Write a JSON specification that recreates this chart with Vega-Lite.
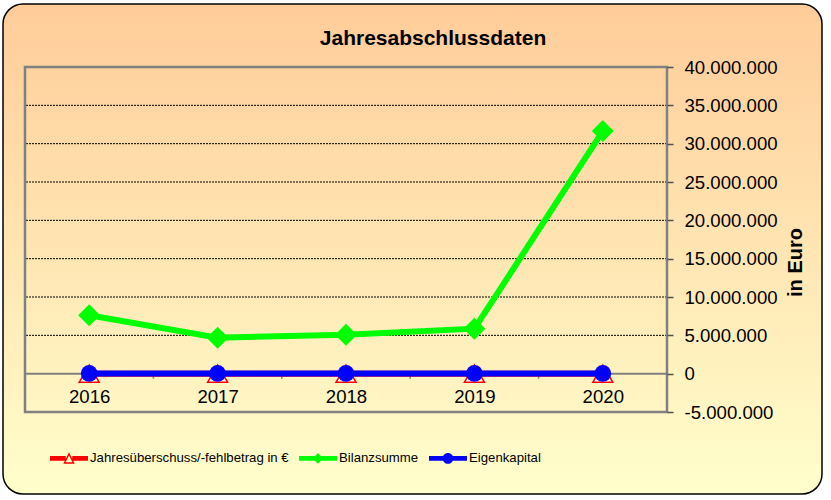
{
  "$schema": "https://vega.github.io/schema/vega-lite/v6.json",
  "width": 642,
  "height": 345,
  "autosize": {"type": "none"},
  "padding": {"left": 25, "top": 67, "right": 164, "bottom": 88},
  "background": "white",
  "title": {"text": "Jahresabschlussdaten", "anchor": "middle", "frame": "group", "dx": 87, "offset": -46, "fontSize": 21, "font": "Liberation Sans", "fontWeight": "bold", "color": "#000000"},
  "config": {
    "view": {"stroke": null},
    "locale": {"number": {"decimal": ",", "thousands": ".", "grouping": [3], "currency": ["", " €"], "minus": "-"}},
    "axis": {"labelOverlap": false, "labelFlush": false, "grid": false, "domain": false, "labelFont": "Liberation Sans", "labelFontSize": 18.6, "labelColor": "#000000", "zindex": 1},
    "axisX": {"ticks": false, "tickSize": 0, "labelPadding": 14.3},
    "axisY": {"ticks": true, "tickSize": 6, "tickColor": "#606060", "tickWidth": 1.5, "labelPadding": 11}
  },
  "data": {"values": [
    {"year": 2016, "series": "Jahresüberschuss/-fehlbetrag in €", "value": 0},
    {"year": 2017, "series": "Jahresüberschuss/-fehlbetrag in €", "value": 0},
    {"year": 2018, "series": "Jahresüberschuss/-fehlbetrag in €", "value": 0},
    {"year": 2019, "series": "Jahresüberschuss/-fehlbetrag in €", "value": 0},
    {"year": 2020, "series": "Jahresüberschuss/-fehlbetrag in €", "value": 0},
    {"year": 2016, "series": "Bilanzsumme", "value": 7610000},
    {"year": 2017, "series": "Bilanzsumme", "value": 4700000},
    {"year": 2018, "series": "Bilanzsumme", "value": 5090000},
    {"year": 2019, "series": "Bilanzsumme", "value": 5870000},
    {"year": 2020, "series": "Bilanzsumme", "value": 31640000},
    {"year": 2016, "series": "Eigenkapital", "value": 25000},
    {"year": 2017, "series": "Eigenkapital", "value": 25000},
    {"year": 2018, "series": "Eigenkapital", "value": 25000},
    {"year": 2019, "series": "Eigenkapital", "value": 25000},
    {"year": 2020, "series": "Eigenkapital", "value": 25000}
  ]},
  "layer": [
    {
      "data": {"values": [{}]},
      "mark": {"type": "rect", "fill": "#000000", "cornerRadius": 20, "xOffset": 6, "yOffset": 6},
      "encoding": {
        "x": {"datum": 2015.3287, "type": "quantitative", "scale": {"domain": [2015.5, 2020.5], "nice": false, "zero": false},
          "axis": {"orient": "bottom", "values": [2016, 2017, 2018, 2019, 2020], "tickCount": 20, "format": "d", "title": null, "offset": -38.7, "labelOverlap": false, "zindex": 1}},
        "x2": {"datum": 2021.7072},
        "y": {"datum": 48217400, "type": "quantitative", "scale": {"domain": [-5000000, 40000000], "nice": false, "zero": false},
          "axis": {"orient": "right", "values": [-5000000, 0, 5000000, 10000000, 15000000, 20000000, 25000000, 30000000, 35000000, 40000000], "tickCount": 20, "format": ",.0f", "title": "in Euro", "titleAngle": 270, "titleX": 128, "titleY": 195, "titleAlign": "center", "titleBaseline": "middle", "titleFont": "Liberation Sans", "titleFontSize": 20, "titleFontWeight": "bold", "titleColor": "#000000", "labelOverlap": false, "ticks": true, "tickSize": 6, "tickColor": "#505050", "tickWidth": 1.5, "zindex": 1}},
        "y2": {"datum": -15695600}
      }
    },
    {
      "data": {"values": [{}]},
      "mark": {"type": "rect", "cornerRadius": 20, "stroke": "#000000", "strokeWidth": 1.5,
        "fill": {"gradient": "linear", "x1": 0, "y1": 0, "x2": 0, "y2": 1, "stops": [{"offset": 0, "color": "#FFCC99"}, {"offset": 1, "color": "#FFFFCC"}]}},
      "encoding": {
        "x": {"datum": 2015.3287, "type": "quantitative"},
        "x2": {"datum": 2021.7072},
        "y": {"datum": 48217400, "type": "quantitative"},
        "y2": {"datum": -15695600}
      }
    },
    {
      "data": {"values": [{"g": 5000000}, {"g": 10000000}, {"g": 15000000}, {"g": 20000000}, {"g": 25000000}, {"g": 30000000}, {"g": 35000000}]},
      "mark": {"type": "rule", "color": "#000000", "strokeWidth": 1, "strokeDash": [2, 1]},
      "encoding": {"y": {"field": "g", "type": "quantitative"}}
    },
    {
      "data": {"values": [{}]},
      "mark": {"type": "rule", "color": "#808080", "strokeWidth": 2},
      "encoding": {"y": {"datum": 0, "type": "quantitative"}}
    },
    {
      "data": {"values": [{"b": 2016.5}, {"b": 2017.5}, {"b": 2018.5}, {"b": 2019.5}]},
      "mark": {"type": "rule", "color": "#808080", "strokeWidth": 1.5},
      "encoding": {
        "x": {"field": "b", "type": "quantitative"},
        "y": {"datum": 0, "type": "quantitative"},
        "y2": {"datum": -650000}
      }
    },
    {
      "data": {"values": [{}]},
      "mark": {"type": "rect", "fill": null, "fillOpacity": 0, "stroke": "#808080", "strokeWidth": 2.5},
      "encoding": {
        "x": {"datum": 2015.5, "type": "quantitative"},
        "x2": {"datum": 2020.5},
        "y": {"datum": 40000000, "type": "quantitative"},
        "y2": {"datum": -5000000}
      }
    },
    {
      "transform": [{"filter": "datum.series === 'Bilanzsumme'"}],
      "mark": {"type": "line", "strokeWidth": 6},
      "encoding": {
        "x": {"field": "year", "type": "quantitative"},
        "y": {"field": "value", "type": "quantitative"},
        "color": {"field": "series", "type": "nominal",
          "scale": {"domain": ["Jahresüberschuss/-fehlbetrag in €", "Bilanzsumme", "Eigenkapital"], "range": ["#FF0000", "#00FF00", "#0000FF"]},
          "legend": {"orient": "none", "legendX": 25, "legendY": 372, "direction": "horizontal", "title": null, "padding": 0, "symbolSize": 1444, "labelFont": "Liberation Sans", "labelFontSize": 13.2, "labelColor": "#000000", "labelOffset": 2, "labelLimit": 400, "columnPadding": 10, "zindex": 1,
            "encode": {"symbols": {"update": {
              "shape": {"signal": "datum.value === 'Bilanzsumme' ? 'M-1,-0.13H1V0.13H-1Z M0,-0.28L0.28,0L0,0.28L-0.28,0Z' : datum.value === 'Eigenkapital' ? 'M-1,-0.13H1V0.13H-1Z M-0.28,0A0.28,0.28 0 1,1 0.28,0A0.28,0.28 0 1,1 -0.28,0Z' : 'M-1,-0.13H-0.17V0.13H-1Z M0.17,-0.13H1V0.13H0.17Z M0,-0.32L0.3,0.28L-0.3,0.28Z M0,-0.15L-0.18,0.2L0.18,0.2Z'"},
              "fill": {"scale": "color", "field": "value"},
              "stroke": {"value": "transparent"},
              "strokeWidth": {"value": 0},
              "opacity": {"value": 1},
              "size": {"value": 1444}
            }}}}
        }
      }
    },
    {
      "transform": [{"filter": "datum.series === 'Bilanzsumme'"}],
      "mark": {"type": "point", "shape": "diamond", "filled": true, "fill": "#00FF00", "size": 484, "opacity": 1},
      "encoding": {
        "x": {"field": "year", "type": "quantitative"},
        "y": {"field": "value", "type": "quantitative"}
      }
    },
    {
      "transform": [{"filter": "datum.series === 'Jahresüberschuss/-fehlbetrag in €'"}],
      "mark": {"type": "line", "strokeWidth": 6},
      "encoding": {
        "x": {"field": "year", "type": "quantitative"},
        "y": {"field": "value", "type": "quantitative"},
        "color": {"field": "series", "type": "nominal"}
      }
    },
    {
      "transform": [{"filter": "datum.series === 'Jahresüberschuss/-fehlbetrag in €'"}],
      "mark": {"type": "point", "shape": "triangle-up", "filled": true, "fill": "#FFFFFF", "stroke": "#FF0000", "strokeWidth": 1.5, "size": 400, "opacity": 1},
      "encoding": {
        "x": {"field": "year", "type": "quantitative"},
        "y": {"field": "value", "type": "quantitative"}
      }
    },
    {
      "transform": [{"filter": "datum.series === 'Eigenkapital'"}],
      "mark": {"type": "line", "strokeWidth": 6},
      "encoding": {
        "x": {"field": "year", "type": "quantitative"},
        "y": {"field": "value", "type": "quantitative"},
        "color": {"field": "series", "type": "nominal"}
      }
    },
    {
      "transform": [{"filter": "datum.series === 'Eigenkapital'"}],
      "mark": {"type": "point", "shape": "circle", "filled": true, "fill": "#0000FF", "size": 280, "opacity": 1},
      "encoding": {
        "x": {"field": "year", "type": "quantitative"},
        "y": {"field": "value", "type": "quantitative"}
      }
    }
  ]
}
